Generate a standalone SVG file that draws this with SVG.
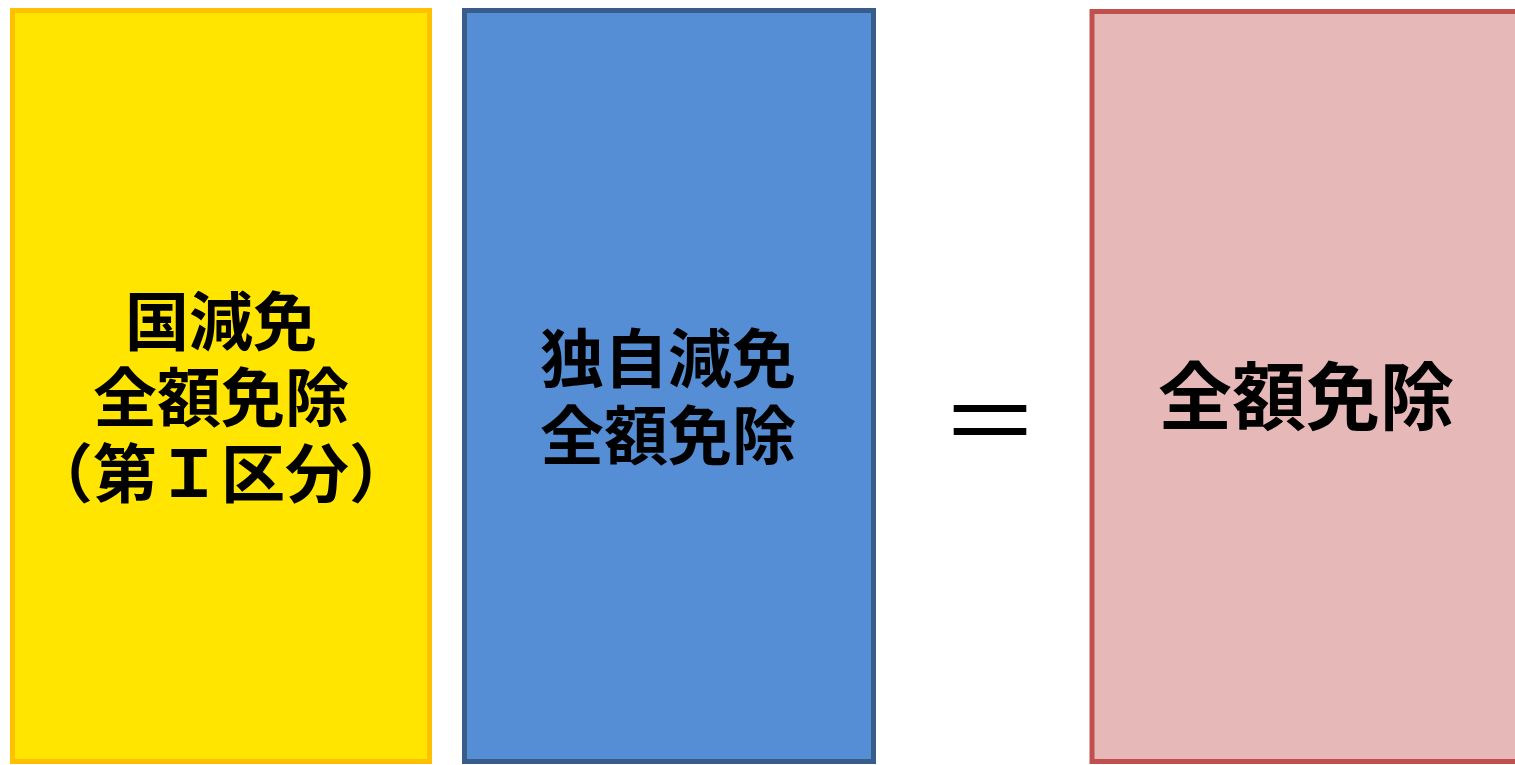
<svg xmlns="http://www.w3.org/2000/svg" width="1515" height="765" viewBox="0 0 1515 765">
<style>
.t{font-family:"Noto Sans CJK JP","Noto Sans CJK SC",sans-serif;font-weight:bold;fill:#000;text-anchor:middle;dominant-baseline:central}
</style>
<rect width="1515" height="765" fill="#fff"/>
<g id="node-kuni">
<rect x="12.5" y="10.5" width="417" height="751" fill="#FFE500" stroke="#FFC000" stroke-width="5"/>
<text class="t" font-size="64"><tspan x="221" y="317">国減免</tspan><tspan x="221" y="393">全額免除</tspan><tspan x="221" y="469">（第Ｉ区分）</tspan></text>
</g>
<g id="node-dokuji">
<rect x="464.5" y="10.5" width="409" height="751" fill="#558ED5" stroke="#385D8A" stroke-width="5"/>
<text class="t" font-size="64"><tspan x="668" y="354">独自減免</tspan><tspan x="668" y="431">全額免除</tspan></text>
</g>
<g id="node-equal">
<text class="t" x="990" y="414" font-size="100" style="font-weight:normal">＝</text>
</g>
<g id="node-zengaku">
<rect x="1092" y="11.5" width="440" height="750" fill="#E6B9B8" stroke="#C0504D" stroke-width="5"/>
<text class="t" x="1306" y="391" font-size="74">全額免除</text>
</g>
<g id="connectors"></g>
</svg>
